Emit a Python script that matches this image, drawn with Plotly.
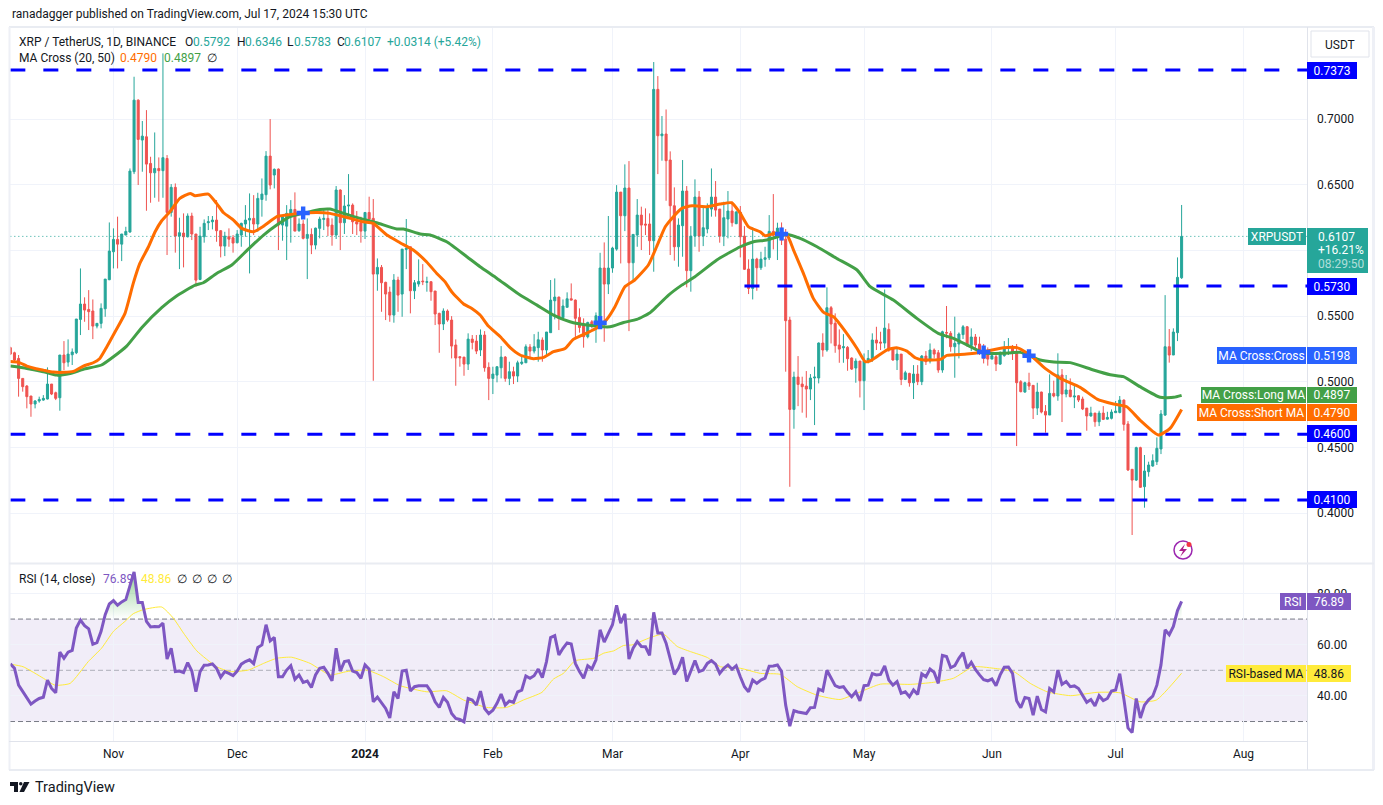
import pandas as pd
import plotly.graph_objects as go

first_day = "2023-10-07"
opens = [.5260,.5221,.5178,.5026,.4968,.4892,.4831,.4854,.4861,.4869,
.4983,.4917,.4879,.5204,.5150,.5206,.5221,.5475,.5592,.5551,
.5539,.5424,.5445,.5556,.5777,.5990,.6084,.6048,.6117,.6140,
.6599,.7144,.6840,.6865,.6662,.6591,.6624,.6607,.6700,.6289,
.6480,.6109,.6132,.6104,.6262,.6125,.5779,.6104,.6211,.6218,
.6231,.6150,.6033,.6104,.6097,.6059,.6117,.6201,.6231,.6244,
.6201,.6388,.6424,.6718,.6574,.6619,.6193,.6185,.6257,.6312,
.6150,.6201,.6092,.6122,.6041,.6168,.6236,.6244,.6193,.6117,
.6460,.6211,.6338,.6345,.6218,.6211,.6147,.6289,.6244,.5820,
.5871,.5757,.5683,.5508,.5775,.5668,.6008,.6028,.5693,.5744,
.5767,.5757,.5762,.5691,.5521,.5440,.5539,.5470,.5280,.5191,
.5188,.5135,.5325,.5310,.5242,.5356,.5110,.5026,.5051,.5107,
.5188,.5026,.5077,.5044,.5140,.5145,.5265,.5234,.5260,.5318,
.5242,.5374,.5617,.5645,.5488,.5567,.5632,.5622,.5490,.5432,
.5343,.5457,.5424,.5488,.5866,.5744,.5866,.6010,.6444,.6264,
.6475,.5906,.6117,.6269,.6201,.6201,.6074,.7226,.6873,.6886,
.6688,.6340,.6028,.6188,.6452,.5846,.6109,.6406,.6109,.6163,
.6315,.6406,.6315,.6109,.6239,.6300,.6203,.6292,.6109,.5858,
.5711,.5934,.5868,.5932,.5944,.6145,.6104,.6170,.6086,.5470,
.4790,.5036,.4983,.4968,.4945,.5029,.5029,.5295,.5242,.5564,
.5445,.5280,.5259,.5262,.5181,.5105,.5158,.5008,.5153,.5173,
.5318,.5303,.5295,.5399,.5254,.5166,.5211,.5018,.5064,.4993,
.5059,.5001,.5196,.5158,.5242,.5221,.5090,.5376,.5369,.5267,
.5288,.5359,.5419,.5277,.5341,.5288,.5242,.5204,.5173,.5191,
.5135,.5199,.5262,.5267,.5224,.5001,.4922,.4993,.4973,.4800,
.4922,.4775,.4747,.4912,.4892,.5052,.4907,.4938,.4884,.4894,
.4869,.4800,.4740,.4762,.4696,.4762,.4716,.4722,.4765,.4767,
.4861,.4679,.4334,.4252,.4499,.4202,.4316,.4359,.4392,.4489,
.4747,.5267,.5204,.5374,.5792]
highs = [.5267,.5229,.5204,.5026,.4975,.4892,.4861,.4887,.4899,.5110,
.4983,.4925,.5204,.5310,.5323,.5254,.5478,.5863,.5643,.5698,
.5627,.5445,.5597,.5782,.6213,.6168,.6257,.6125,.6180,.6624,
.7322,.7150,.6985,.7068,.6713,.6898,.6708,.7500,.6726,.6505,
.6510,.6249,.6282,.6282,.6287,.6125,.6180,.6236,.6262,.6262,
.6383,.6155,.6142,.6168,.6117,.6155,.6211,.6345,.6434,.6421,
.6439,.6548,.6756,.7000,.6624,.6624,.6269,.6345,.6383,.6442,
.6244,.6231,.6244,.6168,.6173,.6257,.6307,.6307,.6244,.6490,
.6465,.6421,.6581,.6358,.6300,.6257,.6289,.6409,.6391,.5939,
.5889,.5762,.5724,.5820,.5800,.6010,.6239,.6028,.5775,.5932,
.5896,.5800,.5762,.5691,.5526,.5559,.5551,.5500,.5323,.5196,
.5188,.5369,.5356,.5356,.5399,.5386,.5148,.5115,.5115,.5272,
.5196,.5153,.5115,.5161,.5204,.5285,.5287,.5363,.5381,.5338,
.5379,.5775,.5787,.5648,.5627,.5681,.5749,.5627,.5559,.5483,
.5457,.5470,.5528,.5982,.6061,.6262,.6028,.6497,.6444,.6655,
.6680,.6122,.6391,.6333,.6320,.6282,.7434,.7327,.7023,.7073,
.6754,.6480,.6244,.6688,.6490,.6185,.6541,.6452,.6333,.6358,
.6624,.6528,.6315,.6371,.6452,.6371,.6300,.6338,.6185,.5932,
.6175,.5944,.5990,.6028,.6269,.6429,.6211,.6213,.6163,.5495,
.5077,.5196,.5039,.5082,.5059,.5115,.5300,.5369,.5719,.5577,
.5521,.5399,.5363,.5272,.5186,.5178,.5158,.5216,.5242,.5369,
.5419,.5381,.5703,.5445,.5254,.5254,.5211,.5084,.5069,.5127,
.5127,.5204,.5234,.5292,.5254,.5242,.5389,.5577,.5386,.5496,
.5376,.5432,.5425,.5407,.5364,.5343,.5288,.5262,.5222,.5204,
.5232,.5310,.5333,.5280,.5288,.5013,.5001,.5069,.4975,.4993,
.4925,.4823,.5057,.5009,.5217,.5097,.5052,.5026,.4968,.4899,
.4887,.4800,.4810,.4762,.4780,.4815,.4772,.4790,.4854,.4892,
.4866,.4701,.4334,.4506,.4506,.4443,.4392,.4448,.4577,.4785,
.5660,.5402,.5407,.5947,.6346]
lows = [.5204,.5153,.4887,.4925,.4798,.4734,.4798,.4841,.4856,.4866,
.4899,.4861,.4780,.5090,.5115,.5128,.5211,.5356,.5457,.5394,
.5325,.5407,.5407,.5495,.5774,.5863,.5863,.5919,.6117,.6135,
.6581,.6498,.6599,.6302,.6363,.6401,.6371,.6401,.5965,.6257,
.5983,.5858,.5871,.6099,.6079,.5724,.5774,.6059,.6155,.6160,
.6066,.5947,.5957,.6028,.5983,.6053,.6028,.6104,.5825,.6117,
.6142,.6257,.6378,.6465,.6472,.6003,.6074,.5927,.6059,.6147,
.6142,.6084,.5782,.5972,.6008,.6092,.6155,.6109,.6036,.6087,
.6003,.6125,.6257,.6125,.6117,.6059,.6087,.6206,.5008,.5693,
.5533,.5470,.5457,.5450,.5533,.5495,.5858,.5521,.5630,.5724,
.5736,.5686,.5617,.5432,.5221,.5394,.5457,.5178,.4970,.5115,
.5046,.5090,.5247,.5211,.5196,.5077,.4861,.4907,.4996,.5026,
.5001,.4975,.4983,.4998,.5128,.5145,.5178,.5216,.5153,.5153,
.5204,.5374,.5475,.5394,.5480,.5567,.5622,.5338,.5374,.5260,
.5331,.5407,.5297,.5475,.5305,.5668,.5830,.5998,.5901,.6147,
.5386,.5762,.6028,.6003,.6117,.5965,.5838,.6581,.6683,.6378,
.5965,.5922,.5876,.5952,.5719,.5686,.6028,.5990,.6033,.6130,
.6257,.6257,.6059,.6033,.6092,.6181,.6201,.5947,.5851,.5668,
.5627,.5693,.5851,.5876,.5927,.6008,.5927,.6041,.5077,.4201,
.4643,.4815,.4765,.4727,.4861,.4671,.4988,.5191,.5229,.5292,
.5221,.5145,.5145,.5084,.5090,.4993,.4881,.4785,.5140,.5153,
.5242,.5242,.5254,.5229,.5161,.5090,.4975,.5013,.4963,.4869,
.4975,.4975,.5128,.5140,.5178,.5069,.5069,.5331,.5229,.5031,
.5178,.5326,.5267,.5234,.5250,.5204,.5140,.5123,.5173,.5082,
.5128,.5191,.5204,.5166,.4511,.4920,.4917,.4938,.4717,.4747,
.4760,.4613,.4747,.4882,.4856,.4694,.4882,.4882,.4800,.4846,
.4785,.4628,.4735,.4658,.4663,.4709,.4714,.4714,.4765,.4760,
.4628,.4321,.3834,.4245,.4194,.4042,.4278,.4354,.4367,.4450,
.4740,.5146,.5204,.5310,.5783]
closes = [.5211,.5166,.5026,.4963,.4887,.4831,.4854,.4866,.4874,.4983,
.4907,.4874,.5204,.5145,.5211,.5227,.5478,.5592,.5546,.5534,
.5424,.5445,.5559,.5782,.5995,.6084,.6048,.6125,.6145,.6604,
.7144,.6845,.6870,.6657,.6591,.6624,.6607,.6706,.6289,.6480,
.6109,.6135,.6104,.6262,.6125,.5774,.6109,.6206,.6218,.6231,
.6150,.6033,.6109,.6086,.6056,.6125,.6206,.6231,.6244,.6201,
.6396,.6429,.6718,.6498,.6617,.6193,.6257,.6282,.6312,.6147,
.6201,.6092,.6122,.6041,.6170,.6239,.6244,.6185,.6117,.6460,
.6211,.6338,.6345,.6218,.6201,.6147,.6289,.6239,.5820,.5871,
.5754,.5668,.5508,.5775,.5660,.6010,.6016,.5693,.5754,.5764,
.5762,.5762,.5686,.5516,.5440,.5539,.5470,.5272,.5181,.5183,
.5135,.5325,.5300,.5234,.5356,.5107,.5026,.5059,.5115,.5188,
.5026,.5077,.5044,.5145,.5150,.5267,.5234,.5267,.5320,.5242,
.5379,.5622,.5645,.5483,.5577,.5632,.5622,.5483,.5414,.5343,
.5452,.5424,.5503,.5866,.5744,.5866,.6018,.6444,.6264,.6475,
.5906,.6122,.6269,.6193,.6193,.6074,.7226,.6873,.6886,.6683,
.6340,.6028,.6193,.6452,.5846,.6109,.6406,.6109,.6173,.6325,
.6406,.6307,.6109,.6249,.6300,.6211,.6292,.6104,.5856,.5711,
.5934,.5868,.5934,.5944,.6145,.6115,.6170,.6079,.5465,.4790,
.5036,.4980,.4963,.4945,.5029,.5036,.5295,.5242,.5564,.5440,
.5275,.5249,.5267,.5176,.5097,.5158,.5008,.5158,.5178,.5318,
.5295,.5295,.5409,.5242,.5166,.5211,.5018,.5069,.4993,.5059,
.5001,.5196,.5153,.5242,.5211,.5090,.5381,.5371,.5267,.5293,
.5364,.5419,.5275,.5341,.5280,.5222,.5178,.5173,.5199,.5135,
.5217,.5262,.5267,.5217,.4993,.4925,.4993,.4968,.4800,.4922,
.4770,.4747,.4912,.4892,.5052,.4907,.4938,.4887,.4892,.4861,
.4793,.4740,.4762,.4696,.4762,.4714,.4729,.4770,.4777,.4861,
.4676,.4329,.4252,.4499,.4197,.4321,.4367,.4400,.4494,.4755,
.5267,.5204,.5379,.5795,.6107]

ma_short_day = [0,1.9,4.0,6.0,8.0,10.4,12.9,15.3,17.7,20.1,21.7,23.4,25.4,27.8,29.8,31.4,33.5,35.1,36.7,38.7,41.1,43.6,44.8,48.0,50.0,51.7,54.1,56.1,58.9,61.4,64.6,67.0,70.2,74.3,77.5,
82.4,85.6,88.0,91.3,94.5,97.7,100.9,103.4,105.4,107.0,109.9,111.9,113.9,115.9,118.8,121.2,123.6,126.8,129.3,131.7,134.5,136.5,139.6,142.1,144.6,146.6,149.0,151.4,154.7,
156.7,158.8,160.4,162.8,165.3,168.9,172.1,174.9,177.0,179.0,181.8,183.0,185.4,188.3,189.9,192.3,194.7,197.2,199.6,202.8,205.3,207.3,208.9,212.5,214.9,217.4,219.4,221.4,225.5,
227.1,231.9,236.0,240.8,244.1,247.3,250.9,254.6,259.4,263.5,267.5,270.7,273.9,278.4,281.2,284]
ma_short = [.5155,.5150,.5120,.5102,.5089,.5074,.5072,.5079,.5120,.5145,.5178,.5267,.5381,.5521,.5749,.5901,.6028,.6142,.6226,.6295,.6396,.6434,.6416,.6429,.6358,.6287,.6231,.6168,.6142,.6185,.6257,.6269,.6282,.6289,.6282,
.6244,.6218,.6206,.6117,.6059,.6003,.5914,.5825,.5762,.5686,.5592,.5559,.5508,.5424,.5343,.5260,.5204,.5176,.5186,.5229,.5254,.5323,.5369,.5407,.5475,.5572,.5724,.5775,.5889,
.6028,.6180,.6244,.6320,.6340,.6333,.6353,.6363,.6282,.6180,.6142,.6112,.6130,.6117,.6003,.5825,.5635,.5528,.5495,.5369,.5254,.5153,.5166,.5242,.5260,.5234,.5183,.5166,.5171,
.5201,.5211,.5229,.5260,.5260,.5204,.5102,.5026,.4958,.4869,.4831,.4810,.4709,.4595,.4646,.4790]
ma_long_day = [0,4.0,8.0,11.2,14.5,17.7,22.1,25.0,28.2,31.9,36.7,40.3,44.8,46.8,50.0,53.7,57.7,61.4,64.6,67.8,71.9,75.1,77.5,
80.8,84.8,88.8,93.7,95.3,99.4,101.8,105.8,110.7,113.9,118.0,123.6,127.7,131.7,135.7,139.8,145.4,148.7,151.9,155.1,
156.7,159.6,162.8,166.0,171.3,177.0,180.2,183.4,188.3,191.5,195.6,200.4,205.3,208.5,214.1,219.8,225.0,
228.7,233.6,236.4,240.8,244.9,249.7,253.0,257.0,262.6,266.7,269.9,273.9,278.8,282.1,284]
ma_long = [.5120,.5102,.5077,.5051,.5064,.5095,.5128,.5191,.5272,.5414,.5564,.5653,.5736,.5754,.5825,.5889,.6010,.6117,.6193,.6257,.6289,.6312,.6315,
.6282,.6244,.6211,.6163,.6163,.6125,.6117,.6066,.5952,.5876,.5787,.5660,.5584,.5508,.5457,.5432,.5419,.5452,.5475,.5526,
.5572,.5660,.5736,.5800,.5927,.6028,.6066,.6079,.6122,.6092,.6028,.5939,.5851,.5724,.5622,.5483,.5369,
.5331,.5255,.5217,.5217,.5224,.5166,.5151,.5146,.5090,.5054,.5039,.4963,.4882,.4882,.4897]
rsi = [52.5,50.8,44.2,41.6,39.0,36.8,38.0,39.0,39.5,46.2,42.9,41.2,57.1,54.7,57.1,57.8,66.5,69.6,67.4,66.2,
60.2,60.8,65.2,71.7,75.9,77.2,75.4,76.7,77.6,83.5,88.4,76.5,76.5,69.1,66.9,67.1,67.0,68.4,54.4,58.6,
49.5,49.7,49.1,53.0,49.7,41.6,49.5,52.0,52.1,52.5,50.8,47.3,49.5,48.8,47.9,49.7,52.4,53.4,54.1,52.6,
58.9,59.9,67.8,61.5,62.8,47.5,47.5,50.1,51.8,46.5,48.2,45.3,45.8,43.3,48.2,50.8,51.2,48.8,45.9,58.6,
49.7,53.4,53.7,49.7,49.1,46.9,52.1,50.4,37.7,39.5,37.1,35.1,31.4,41.6,39.0,49.7,50.0,41.9,43.6,44.0,
44.0,44.0,41.6,37.7,35.5,39.4,37.5,33.1,31.2,30.8,
29.9,39.0,38.4,36.4,41.9,35.1,33.1,34.4,37.1,40.7,36.4,38.0,37.5,41.6,42.3,47.8,46.9,47.9,50.5,47.1,
53.4,62.8,63.5,56.0,58.6,60.7,60.3,52.7,49.5,46.9,51.8,50.5,54.1,65.8,61.0,64.1,67.8,75.4,68.4,72.0,
54.4,58.6,61.2,59.3,59.2,55.8,72.6,64.6,64.6,60.6,54.1,48.4,50.8,55.1,45.6,49.7,53.8,49.5,50.1,52.7,
53.8,52.4,48.8,50.8,52.1,50.4,51.8,47.5,43.6,41.6,46.2,44.9,46.2,46.9,51.6,51.7,52.1,49.5,36.4,28.2,
34.2,33.7,33.4,33.1,35.4,35.5,42.7,42.0,50.0,46.9,44.0,43.3,43.6,41.4,39.7,41.6,38.1,44.0,44.2,48.7,
48.2,48.4,51.7,46.2,44.2,45.6,
41.0,41.6,39.7,42.3,40.6,48.6,47.5,50.5,49.2,44.9,55.8,55.4,51.0,51.8,54.7,56.9,50.8,53.1,50.3,48.2,
46.3,45.9,46.6,44.0,48.2,51.2,51.3,48.8,38.1,35.4,39.4,39.0,32.5,39.9,34.7,33.8,42.9,41.6,50.1,44.5,
45.6,43.6,43.9,42.9,40.1,37.5,38.6,36.1,40.1,38.2,39.0,41.9,42.3,48.7,38.8,27.5,25.7,39.0,31.4,36.4,
38.5,39.9,44.2,52.1,65.8,63.9,67.1,73.3,76.89]
rsi_ma_day = [0,3.1,8.0,10.8,14.5,18.9,22.1,25.0,27.8,29.8,32.3,36.7,39.5,42.0,45.2,50.0,53.3,57.7,61.4,64.6,68.2,72.7,77.5,81.6,86.4,90.5,94.5,101.0,105.8,
109.9,115.5,120.3,124.4,128.9,131.7,134.1,136.9,141.5,143.9,146.3,148.7,150.7,155.2,158.4,161.7,164.9,169.0,172.2,177.0,181.9,186.7,190.8,195.6,201.2,206.1,211.0,218.2,
223.8,228.7,233.5,238.4,243.3,247.3,251.4,257.1,263.5,269.1,273.9,277.9,284]
rsi_ma = [52.4,51.4,46.9,44.2,44.9,53.4,58.6,65.2,69.1,72.1,73.7,74.7,70.4,64.5,57.6,51.4,49.5,50.1,52.7,54.7,55.1,52.7,48.2,49.5,50.1,47.5,44.0,41.6,42.0,
38.4,35.5,35.5,38.4,41.4,46.6,48.8,53.7,54.7,56.7,57.6,59.7,59.9,62.8,64.1,59.3,57.3,55.0,51.4,50.8,48.8,48.4,43.6,40.3,38.6,41.6,44.6,44.5,
45.3,46.9,51.4,50.8,49.5,44.9,41.6,40.1,41.4,41.2,37.7,38.4,48.86]
level_vals = [0.7373, 0.5730, 0.4600, 0.4100]
level_from = ["2023-10-07", "2024-04-02", "2023-10-07", "2023-10-07"]
cross_day = [71, 143, 187, 236, 247]
cross_val = [.6285, .5450, .6125, .5227, .5198]
price_ticks = [0.40, 0.45, 0.50, 0.55, 0.60, 0.65, 0.70]
price_labels = ["0.4000", "0.4500", "0.5000", "0.5500", "", "0.6500", "0.7000"]
rsi_ticks = [40, 60, 80]
rsi_labels = ["40.00", "60.00", "80.00"]
month_ticks = ["2023-11-01","2023-12-01","2024-01-01","2024-02-01","2024-03-01","2024-04-01","2024-05-01","2024-06-01","2024-07-01","2024-08-01"]
month_labels = ["Nov","Dec","<b>2024</b>","Feb","Mar","Apr","May","Jun","Jul","Aug"]

assert len(opens) == len(highs) == len(lows) == len(closes) == 285
assert len(rsi) == 285, len(rsi)
assert len(ma_short_day) == len(ma_short), (len(ma_short_day), len(ma_short))
assert len(ma_long_day) == len(ma_long), (len(ma_long_day), len(ma_long))
assert len(rsi_ma_day) == len(rsi_ma), (len(rsi_ma_day), len(rsi_ma))

days = pd.date_range(first_day, periods=len(closes))
at_days = lambda d: pd.Timestamp(first_day) + pd.to_timedelta(d, unit="D")
XR = ["2023-10-06 22:00", "2024-08-16 15:30"]
UP, DOWN = "#26A69A", "#EF5350"
BLUE, ORANGE, GREEN, PURPLE, YELLOW = "#0000FF", "#FF6D00", "#43A047", "#7E57C2", "#FFEB3B"
INK = "#131722"
FONT = "Roboto"
PL, PR, PT, PB = 10, 1308, 28, 741
xp = lambda v: (v - PL) / (PR - PL)
yp = lambda v: (PB - v) / (PB - PT)

fig = go.Figure()
for val, start in zip(level_vals, level_from):
    fig.add_trace(go.Scatter(x=[start, XR[1]], y=[val, val], mode="lines",
                             line=dict(color=BLUE, width=3, dash="15px,18px")))
fig.add_trace(go.Scatter(x=[days[0], XR[1]], y=[closes[-1], closes[-1]], mode="lines",
                         line=dict(color=UP, width=1, dash="1px,3px")))
fig.add_trace(go.Candlestick(x=days, open=opens, high=highs, low=lows, close=closes,
    increasing=dict(line=dict(color=UP, width=1), fillcolor=UP),
    decreasing=dict(line=dict(color=DOWN, width=1), fillcolor=DOWN)))
fig.add_trace(go.Scatter(x=at_days(ma_long_day), y=ma_long, mode="lines",
                         line=dict(color=GREEN, width=3, shape="spline", smoothing=0.5)))
fig.add_trace(go.Scatter(x=at_days(ma_short_day), y=ma_short, mode="lines",
                         line=dict(color=ORANGE, width=3, shape="spline", smoothing=0.5)))
fig.add_trace(go.Scatter(x=days[cross_day], y=cross_val, mode="markers",
                         marker=dict(symbol="cross", size=11, color="#2962FF", line=dict(width=0))))

fig.add_trace(go.Scatter(x=days, y=[70] * len(days), yaxis="y2", mode="lines", line=dict(width=0)))
fig.add_trace(go.Scatter(x=days, y=[max(v, 70) for v in rsi], yaxis="y2", mode="lines", line=dict(width=0),
                         fill="tonexty",
                         fillgradient=dict(type="vertical",
                                           colorscale=[[0, "rgba(76,175,80,0.0)"], [1, "rgba(76,175,80,0.6)"]])))
fig.add_trace(go.Scatter(x=at_days(rsi_ma_day), y=rsi_ma, yaxis="y2", mode="lines",
                         line=dict(color=YELLOW, width=1, shape="spline", smoothing=0.5)))
fig.add_trace(go.Scatter(x=days, y=rsi, yaxis="y2", mode="lines", line=dict(color=PURPLE, width=3)))

shapes = [
    dict(type="rect", xref="paper", yref="y2", x0=0, x1=1, y0=30, y1=70, layer="below",
         fillcolor="rgba(126,87,194,0.11)", line=dict(width=0)),
]
for lv, c in ((70, "#787B86"), (50, "rgba(120,123,134,0.55)"), (30, "#787B86")):
    shapes.append(dict(type="line", xref="paper", yref="y2", x0=0, x1=1, y0=lv, y1=lv, layer="below",
                       line=dict(color=c, width=1, dash="5px,3px")))


def frame(x0, y0, x1, y1, color="#E0E3EB", width=1):
    shapes.append(dict(type="line", xref="paper", yref="paper", x0=xp(x0), x1=xp(x1), y0=yp(y0), y1=yp(y1),
                       layer="above", line=dict(color=color, width=width)))


frame(9, 27, 1374, 27, "#E9ECF2", 2)
frame(9.5, 27, 9.5, 770, "#EEF0F6", 2)
frame(1373.5, 27, 1373.5, 770, "#EEF0F6", 3)
frame(9, 770, 1374, 770, "#E9ECF2", 2)
frame(1307.5, 27, 1307.5, 770, "#E0E3EB", 1)
frame(9, 563.5, 1374, 563.5, "#E9ECF2", 2)
frame(9, 741.5, 1308, 741.5, "#E0E3EB", 1)
shapes.append(dict(type="rect", xref="paper", yref="paper", x0=xp(1311), x1=xp(1369), y0=yp(31), y1=yp(57),
                   layer="above", fillcolor="white", line=dict(color="#E0E3EB", width=1)))
# lightning badge
shapes.append(dict(type="circle", xref="paper", yref="paper", x0=xp(1174), x1=xp(1192), y0=yp(559), y1=yp(541),
                   layer="above", fillcolor="white", line=dict(color="#9C27B0", width=1.5)))
bolt = [(1185, 544), (1179, 551), (1183, 551), (1180, 557), (1187, 549), (1183, 549)]
shapes.append(dict(type="path", xref="paper", yref="paper", layer="above", fillcolor="#AD1F8C", line=dict(width=0),
                   path="M" + " L".join(f"{xp(a):.5f},{yp(b):.5f}" for a, b in bolt) + " Z"))
shapes.append(dict(type="circle", xref="paper", yref="paper", x0=xp(1186.5), x1=xp(1191.5), y0=yp(547), y1=yp(542),
                   layer="above", fillcolor="#F23645", line=dict(width=0)))
# footer logo
shapes.append(dict(type="path", xref="paper", yref="paper", layer="above", fillcolor=INK, line=dict(width=0),
                   path=" ".join([f"M{xp(10):.5f},{yp(782):.5f}", f"L{xp(18):.5f},{yp(782):.5f}",
                                  f"L{xp(18):.5f},{yp(792):.5f}", f"L{xp(14):.5f},{yp(792):.5f}",
                                  f"L{xp(14):.5f},{yp(786):.5f}", f"L{xp(10):.5f},{yp(786):.5f}", "Z"])))
shapes.append(dict(type="path", xref="paper", yref="paper", layer="above", fillcolor=INK, line=dict(width=0),
                   path=" ".join([f"M{xp(24):.5f},{yp(782):.5f}", f"L{xp(29.5):.5f},{yp(782):.5f}",
                                  f"L{xp(24):.5f},{yp(792):.5f}", f"L{xp(19.5):.5f},{yp(792):.5f}", "Z"])))
shapes.append(dict(type="circle", xref="paper", yref="paper", x0=xp(19), x1=xp(22.5), y0=yp(785.5), y1=yp(782),
                   layer="above", fillcolor=INK, line=dict(width=0)))

ann = []


def label(x, y, text, color=INK, size=12, anchor="left"):
    ann.append(dict(xref="paper", yref="paper", x=xp(x), y=yp(y), text=text, showarrow=False, xanchor=anchor,
                    yanchor="middle", align=anchor, font=dict(family=FONT, size=size, color=color)))


def box(x0, x1, y0, y1, text, bg, color="white", size=12):
    ann.append(dict(xref="paper", yref="paper", x=xp((x0 + x1) / 2), y=yp((y0 + y1) / 2), text=text, showarrow=False,
                    xanchor="center", yanchor="middle", width=x1 - x0, height=y1 - y0, bgcolor=bg, borderpad=0,
                    borderwidth=0, align="center", valign="middle", font=dict(family=FONT, size=size, color=color)))


label(10, 14.5, "ranadagger published on TradingView.com, Jul 17, 2024 15:30 UTC")
label(17, 41.5, "XRP / TetherUS, 1D, BINANCE")
for x, t, c in ((183, "O", INK), (191, "0.5792", UP), (235, "H", INK), (243, "0.6346", UP), (285, "L", INK),
                (292, "0.5783", UP), (335, "C", INK), (342, "0.6107", UP), (385, "+0.0314 (+5.42%)", UP)):
    label(x, 41.5, t, c)
label(17, 58.5, "MA Cross (20, 50)")
label(118, 58.5, "0.4790", ORANGE)
label(162, 58.5, "0.4897", GREEN)
label(205, 58.5, "∅")
label(17, 579, "RSI (14, close)")
label(101, 579, "76.89", PURPLE)
label(139, 579, "48.86", YELLOW)
for x in (175, 190, 205, 220):
    label(x, 579, "∅")
label(1340, 44.5, "USDT", anchor="center")

for ytop, txt in ((62, "0.7373"), (278, "0.5730"), (425, "0.4600"), (491, "0.4100")):
    box(1307, 1357, ytop, ytop + 17, txt, BLUE)
box(1248, 1306, 228, 245, "XRPUSDT", UP)
box(1307, 1368, 228, 273, "", UP)
label(1316, 237, "0.6107", "white")
label(1316, 250.5, "+16.21%", "white")
label(1316, 264, "08:29:50", "rgba(255,255,255,0.65)")
box(1217, 1306, 347, 364, "MA Cross:Cross", "#2962FF")
box(1307, 1357, 347, 364, "0.5198", "#2962FF")
box(1201, 1306, 387, 403, "MA Cross:Long MA", GREEN)
box(1307, 1357, 387, 403, "0.4897", GREEN)
box(1197, 1306, 404, 421, "MA Cross:Short MA", ORANGE)
box(1307, 1357, 404, 421, "0.4790", ORANGE)
box(1280, 1306, 593, 610, "RSI", PURPLE)
box(1307, 1351, 593, 610, "76.89", PURPLE)
box(1226, 1306, 665, 682, "RSI-based MA", YELLOW, INK)
box(1307, 1351, 665, 682, "48.86", YELLOW, INK)
label(33, 787, "TradingView", INK, 14.5)

axis_font = dict(family=FONT, size=12, color=INK)
fig.update_layout(
    width=1383, height=805, margin=dict(l=PL, r=1383 - PR, t=PT, b=805 - PB, autoexpand=False),
    paper_bgcolor="white", plot_bgcolor="white", showlegend=False, shapes=shapes, annotations=ann,
    font=dict(family=FONT, size=12, color=INK), hovermode=False,
    xaxis=dict(range=XR, type="date", anchor="y2", domain=[0, 1], tickmode="array", tickvals=month_ticks,
               ticktext=month_labels, showgrid=True, gridcolor="#F0F3FA", gridwidth=1, zeroline=False,
               rangeslider=dict(visible=False), showline=False, ticks="", ticklabelstandoff=4, tickfont=axis_font),
    yaxis=dict(range=[.3621, .7693], domain=[(PB - 563) / (PB - PT), 1], side="right", anchor="x", tickmode="array",
               tickvals=price_ticks, ticktext=price_labels, showgrid=True, gridcolor="#F0F3FA", gridwidth=1,
               zeroline=False, ticks="", ticklabelstandoff=8, tickfont=axis_font, showline=False),
    yaxis2=dict(range=[22.4, 91.5], domain=[0, (PB - 564) / (PB - PT)], side="right", anchor="x", tickmode="array",
                tickvals=rsi_ticks, ticktext=rsi_labels, showgrid=True, gridcolor="#F0F3FA", gridwidth=1,
                zeroline=False, ticks="", ticklabelstandoff=8, tickfont=axis_font, showline=False),
)
fig.write_html("out.html", config=dict(displayModeBar=False),
               post_script="document.body.style.margin='0';document.body.style.overflow='hidden';")
